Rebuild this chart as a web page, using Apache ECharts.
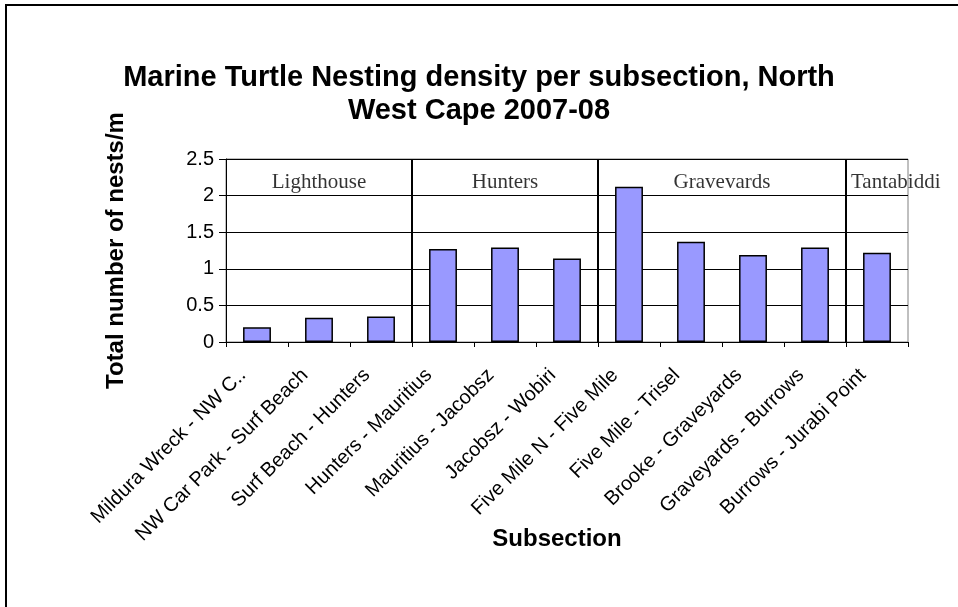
<!DOCTYPE html>
<html>
<head>
<meta charset="utf-8">
<script src="https://cdn.jsdelivr.net/npm/echarts@6/dist/echarts.min.js"></script>
<style>
html,body{margin:0;padding:0;background:#fff;}
#chart{width:958px;height:607px;}
</style>
</head>
<body>
<div id="chart"></div>
<script>
// ---- data ----
var categories = [
  "Mildura Wreck - NW C..",
  "NW Car Park - Surf Beach",
  "Surf Beach - Hunters",
  "Hunters - Mauritius",
  "Mauritius - Jacobsz",
  "Jacobsz - Wobiri",
  "Five Mile N - Five Mile",
  "Five Mile - Trisel",
  "Brooke - Graveyards",
  "Graveyards - Burrows",
  "Burrows - Jurabi Point"
];
var nestDensity = [0.20, 0.33, 0.35, 1.27, 1.29, 1.14, 2.12, 1.37, 1.19, 1.29, 1.22];
var sectionNames = ["Lighthouse", "Hunters", "Gravevards", "Tantabiddi"];
var sectionStarts = [0, 3, 6, 10];   // category index where each section begins
var sectionEnds = [3, 6, 10, 11];
var yTicks = [0, 0.5, 1, 1.5, 2, 2.5];

// ---- build ----
var SANS = "'Liberation Sans', Arial, sans-serif";
var SERIF = "'Liberation Serif', 'Times New Roman', serif";
var LABEL_Y = 2.18;

var dividerData = sectionStarts.slice(1).map(function (s) { return { xAxis: s }; });
var labelData = sectionNames.map(function (n, i) {
  var last = i === sectionNames.length - 1;
  return {
    value: [last ? sectionStarts[i] + 0.08 : (sectionStarts[i] + sectionEnds[i]) / 2, LABEL_Y],
    name: n,
    label: { align: last ? 'left' : 'center' }
  };
});

var chart = echarts.init(document.getElementById('chart'), null, { renderer: 'canvas' });
chart.setOption({
  backgroundColor: '#fff',
  animation: false,
  title: {
    text: 'Marine Turtle Nesting density per subsection, North\nWest Cape 2007-08',
    left: 'center',
    top: 56,
    textStyle: { fontFamily: SANS, fontWeight: 'bold', fontSize: 29, lineHeight: 33, color: '#000' }
  },
  graphic: [{
    type: 'polyline',
    shape: { points: [[6, 607], [6, 5], [958, 5]] },
    style: { stroke: '#000', lineWidth: 2, fill: null },
    silent: true
  }],
  grid: {
    left: 226, right: 50, top: 159, bottom: 265,
    show: true, borderColor: '#808080', borderWidth: 1, backgroundColor: 'transparent'
  },
  xAxis: [{
    type: 'category',
    data: categories,
    name: 'Subsection',
    nameLocation: 'middle',
    nameGap: 185,
    nameMoveOverlap: false,
    nameTextStyle: { fontFamily: SANS, fontWeight: 'bold', fontSize: 24, color: '#000', padding: [0, 20, 0, 0] },
    axisLine: { lineStyle: { color: '#000', width: 1 } },
    axisTick: { show: true, length: 5, lineStyle: { color: '#000' } },
    axisLabel: { interval: 0, rotate: 45, margin: 16, padding: [0, 20, 0, 0], fontFamily: SANS, fontSize: 20, color: '#000' },
    splitLine: { show: false }
  }, {
    type: 'value', min: 0, max: categories.length, show: false
  }],
  yAxis: {
    type: 'value',
    min: yTicks[0], max: yTicks[yTicks.length - 1], interval: 0.5,
    name: 'Total number of nests/m',
    nameLocation: 'middle',
    nameGap: 98,
    nameRotate: 90,
    nameMoveOverlap: false,
    nameTextStyle: { fontFamily: SANS, fontWeight: 'bold', fontSize: 24, color: '#000' },
    axisLine: { show: true, lineStyle: { color: '#000', width: 1 } },
    axisTick: { show: true, length: 7, lineStyle: { color: '#000' } },
    axisLabel: { fontFamily: SANS, fontSize: 20, color: '#000', margin: 12 },
    splitLine: { show: true, lineStyle: { color: '#000', width: 1 } }
  },
  series: [{
    type: 'bar',
    data: nestDensity,
    barWidth: '45%',
    itemStyle: { color: '#9999FF', borderColor: '#000', borderWidth: 1.5 },
    silent: true
  }, {
    type: 'scatter',
    xAxisIndex: 1,
    data: labelData,
    symbolSize: 0,
    silent: true,
    label: {
      show: true, position: 'inside', formatter: '{b}',
      fontFamily: SERIF, fontSize: 21, color: '#000'
    },
    markLine: {
      silent: true,
      symbol: 'none',
      label: { show: false },
      lineStyle: { color: '#000', width: 2, type: 'solid' },
      data: dividerData
    }
  }]
});
</script>
</body>
</html>
